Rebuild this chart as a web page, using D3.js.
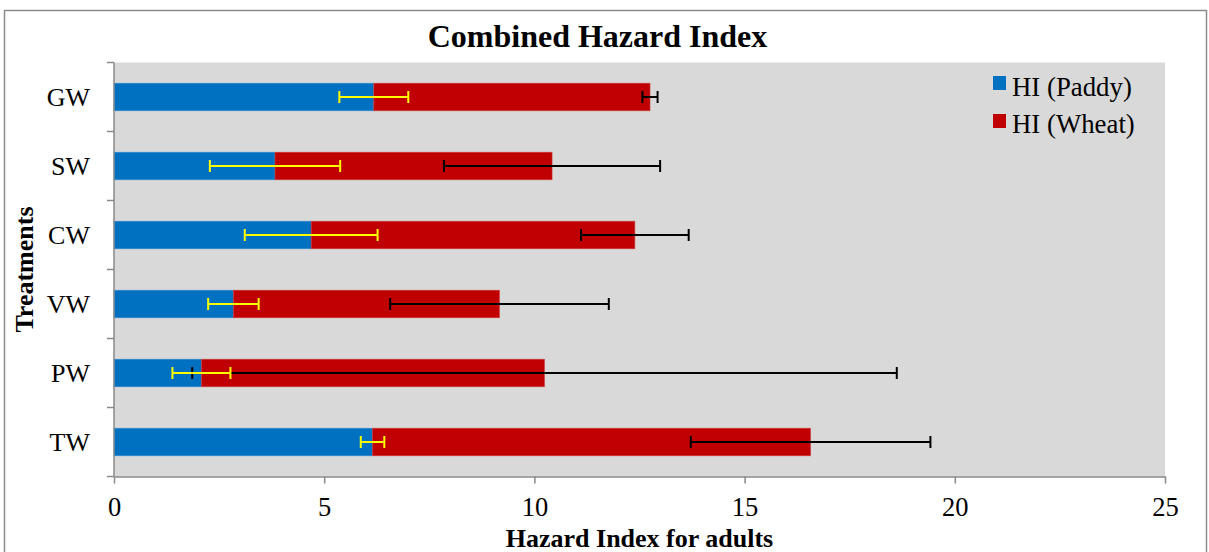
<!DOCTYPE html>
<html><head><meta charset="utf-8">
<script src="https://cdn.jsdelivr.net/npm/d3@7"></script>
<style>body{margin:0;background:#fff;}svg{display:block;}svg text{font-family:'Liberation Serif','Times New Roman',serif;}</style>
</head><body>
<script>
const categories = ["GW","SW","CW","VW","PW","TW"];
const paddy = [6.18, 3.83, 4.69, 2.84, 2.08, 6.15];
const wheat = [6.57, 6.59, 7.70, 6.33, 8.16, 10.42];
const paddyErr = [0.82, 1.55, 1.58, 0.60, 0.69, 0.28];
const wheatErr = [0.18, 2.57, 1.28, 2.60, 8.38, 2.85];
const xTicks = [0, 5, 10, 15, 20, 25];
const seriesNames = ["HI (Paddy)", "HI (Wheat)"];
const colors = ["#0070C0", "#C00000"];

const W = 1209, H = 552;
const font = "'Liberation Serif','Times New Roman',serif";
const svg = d3.select("body").append("svg").attr("width", W).attr("height", H)
  .style("font-family", font);

svg.append("rect").attr("x", 4.5).attr("y", 10.5).attr("width", 1202).attr("height", 600)
  .attr("fill", "#fff").attr("stroke", "#8c8c8c").attr("stroke-width", 1.5);

const x = d3.scaleLinear().domain([0, 25]).range([114, 1165]);
const y = d3.scaleBand().domain(categories).range([62.5, 476.5]).paddingInner(0.6).paddingOuter(0.3);

svg.append("rect").attr("x", x(0)).attr("y", 62.5).attr("width", x(25) - x(0)).attr("height", 414)
  .attr("fill", "#D9D9D9");

const data = categories.map((c, i) => ({c, p: paddy[i], w: wheat[i], pe: paddyErr[i], we: wheatErr[i]}));

// bars
svg.append("g").selectAll("rect").data(data).join("rect")
  .attr("x", x(0)).attr("y", d => y(d.c)).attr("width", d => x(d.p) - x(0)).attr("height", y.bandwidth())
  .attr("fill", colors[0]).attr("stroke", "#3b8fd0").attr("stroke-width", 0.6);
svg.append("g").selectAll("rect").data(data).join("rect")
  .attr("x", d => x(d.p)).attr("y", d => y(d.c)).attr("width", d => x(d.p + d.w) - x(d.p)).attr("height", y.bandwidth())
  .attr("fill", colors[1]).attr("stroke", "#d04040").attr("stroke-width", 0.6);

function errBars(centerFn, errFn, color) {
  const g = svg.append("g").attr("stroke", color).attr("stroke-width", 2).attr("fill", "none");
  data.forEach(d => {
    const cy = y(d.c) + y.bandwidth() / 2;
    const lo = x(centerFn(d) - errFn(d)), hi = x(centerFn(d) + errFn(d));
    g.append("line").attr("x1", lo).attr("x2", hi).attr("y1", cy).attr("y2", cy);
    g.append("line").attr("x1", lo).attr("x2", lo).attr("y1", cy - 6).attr("y2", cy + 6);
    g.append("line").attr("x1", hi).attr("x2", hi).attr("y1", cy - 6).attr("y2", cy + 6);
  });
}
errBars(d => d.p + d.w, d => d.we, "#000000");
errBars(d => d.p, d => d.pe, "#FFFF00");

// axes
const axisColor = "#898989";
const xa = svg.append("g").attr("transform", "translate(0,476.5)")
  .call(d3.axisBottom(x).tickValues(xTicks).tickSize(7).tickPadding(14).tickSizeOuter(0))
  .attr("font-family", font);
xa.select(".domain").attr("stroke", axisColor).attr("stroke-width", 1.5);
xa.selectAll(".tick line").attr("stroke", axisColor).attr("stroke-width", 1.5);
xa.selectAll(".tick text").attr("font-size", 26.5).style("font-family", font).attr("fill", "#000");

const ya = svg.append("g");
ya.append("line").attr("x1", 114).attr("x2", 114).attr("y1", 62.5).attr("y2", 476.5)
  .attr("stroke", axisColor).attr("stroke-width", 1.5);
const bounds = categories.map(c => y(c) - y.step() * y.paddingInner() / 2);
bounds.push(476.5);
ya.selectAll("line.t").data(bounds).join("line").attr("class", "t")
  .attr("x1", 107).attr("x2", 114).attr("y1", d => d).attr("y2", d => d)
  .attr("stroke", axisColor).attr("stroke-width", 1.5);
ya.selectAll("text").data(categories).join("text")
  .attr("x", 90).attr("y", d => y(d) + y.bandwidth() / 2).attr("dy", "0.34em")
  .attr("text-anchor", "end").attr("font-size", 26).text(d => d);

// titles
svg.append("text").attr("x", 597.5).attr("y", 47).attr("text-anchor", "middle")
  .attr("font-size", 32).attr("font-weight", "bold").text("Combined Hazard Index");
svg.append("text").attr("x", (x(0) + x(25)) / 2).attr("y", 547).attr("text-anchor", "middle")
  .attr("font-size", 26).attr("font-weight", "bold").text("Hazard Index for adults");
svg.append("text").attr("transform", "translate(33,269.5) rotate(-90)").attr("text-anchor", "middle")
  .attr("font-size", 26).attr("font-weight", "bold").text("Treatments");

// legend
const lg = svg.append("g");
seriesNames.forEach((n, i) => {
  lg.append("rect").attr("x", 993).attr("y", 76 + i * 38).attr("width", 13).attr("height", 14).attr("fill", colors[i]);
  lg.append("text").attr("x", 1012).attr("y", 95.5 + i * 37.5).attr("font-size", 26.8).text(n);
});
</script>
</body></html>
